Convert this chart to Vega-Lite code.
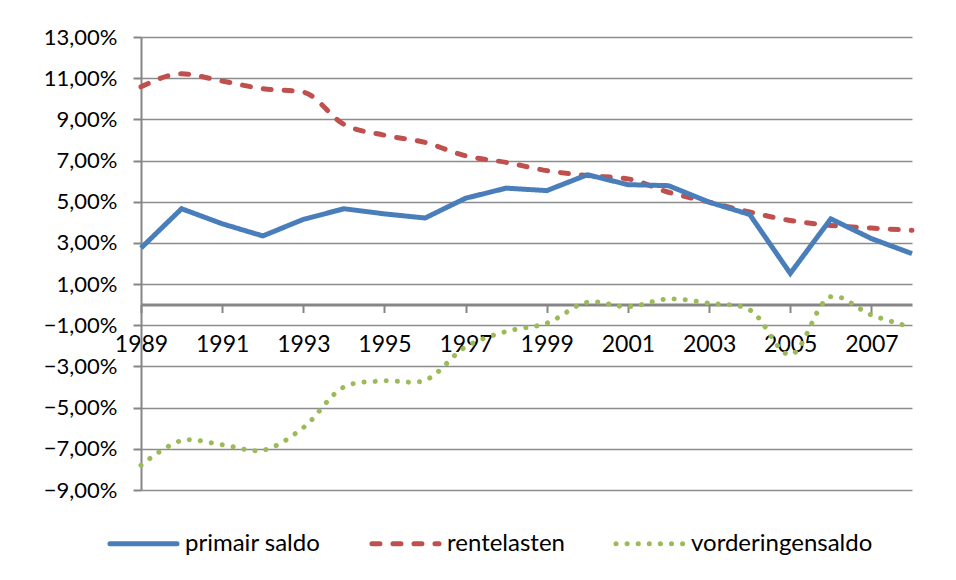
{
  "$schema": "https://vega.github.io/schema/vega-lite/v6.json",
  "width": 771,
  "height": 453,
  "autosize": "none",
  "padding": {"left": 141, "top": 37, "right": 44, "bottom": 90},
  "background": "white",
  "config": {"font": "Lato", "view": {"stroke": null}},
  "data": {"values": [
    {"year": 1989, "series": "primair saldo", "value": 2.75},
    {"year": 1990, "series": "primair saldo", "value": 4.66},
    {"year": 1991, "series": "primair saldo", "value": 3.93},
    {"year": 1992, "series": "primair saldo", "value": 3.34},
    {"year": 1993, "series": "primair saldo", "value": 4.14},
    {"year": 1994, "series": "primair saldo", "value": 4.66},
    {"year": 1995, "series": "primair saldo", "value": 4.41},
    {"year": 1996, "series": "primair saldo", "value": 4.21},
    {"year": 1997, "series": "primair saldo", "value": 5.17},
    {"year": 1998, "series": "primair saldo", "value": 5.66},
    {"year": 1999, "series": "primair saldo", "value": 5.54},
    {"year": 2000, "series": "primair saldo", "value": 6.31},
    {"year": 2001, "series": "primair saldo", "value": 5.83},
    {"year": 2002, "series": "primair saldo", "value": 5.78},
    {"year": 2003, "series": "primair saldo", "value": 4.98},
    {"year": 2004, "series": "primair saldo", "value": 4.38},
    {"year": 2005, "series": "primair saldo", "value": 1.52},
    {"year": 2006, "series": "primair saldo", "value": 4.17},
    {"year": 2007, "series": "primair saldo", "value": 3.21},
    {"year": 2008, "series": "primair saldo", "value": 2.48},
    {"year": 1989, "series": "rentelasten", "value": 10.58},
    {"year": 1990, "series": "rentelasten", "value": 11.21},
    {"year": 1991, "series": "rentelasten", "value": 10.86},
    {"year": 1992, "series": "rentelasten", "value": 10.49},
    {"year": 1993, "series": "rentelasten", "value": 10.32},
    {"year": 1994, "series": "rentelasten", "value": 8.76},
    {"year": 1995, "series": "rentelasten", "value": 8.23},
    {"year": 1996, "series": "rentelasten", "value": 7.88},
    {"year": 1997, "series": "rentelasten", "value": 7.23},
    {"year": 1998, "series": "rentelasten", "value": 6.91},
    {"year": 1999, "series": "rentelasten", "value": 6.51},
    {"year": 2000, "series": "rentelasten", "value": 6.27},
    {"year": 2001, "series": "rentelasten", "value": 6.11},
    {"year": 2002, "series": "rentelasten", "value": 5.46},
    {"year": 2003, "series": "rentelasten", "value": 4.98},
    {"year": 2004, "series": "rentelasten", "value": 4.5},
    {"year": 2005, "series": "rentelasten", "value": 4.09},
    {"year": 2006, "series": "rentelasten", "value": 3.85},
    {"year": 2007, "series": "rentelasten", "value": 3.72},
    {"year": 2008, "series": "rentelasten", "value": 3.61},
    {"year": 1989, "series": "vorderingensaldo", "value": -7.8},
    {"year": 1990, "series": "vorderingensaldo", "value": -6.6},
    {"year": 1991, "series": "vorderingensaldo", "value": -6.8},
    {"year": 1992, "series": "vorderingensaldo", "value": -7.07},
    {"year": 1993, "series": "vorderingensaldo", "value": -5.97},
    {"year": 1994, "series": "vorderingensaldo", "value": -4.0},
    {"year": 1995, "series": "vorderingensaldo", "value": -3.7},
    {"year": 1996, "series": "vorderingensaldo", "value": -3.67},
    {"year": 1997, "series": "vorderingensaldo", "value": -2.05},
    {"year": 1998, "series": "vorderingensaldo", "value": -1.3},
    {"year": 1999, "series": "vorderingensaldo", "value": -0.9},
    {"year": 2000, "series": "vorderingensaldo", "value": 0.12},
    {"year": 2001, "series": "vorderingensaldo", "value": -0.1},
    {"year": 2002, "series": "vorderingensaldo", "value": 0.28},
    {"year": 2003, "series": "vorderingensaldo", "value": 0.07},
    {"year": 2004, "series": "vorderingensaldo", "value": -0.25},
    {"year": 2005, "series": "vorderingensaldo", "value": -2.43},
    {"year": 2006, "series": "vorderingensaldo", "value": 0.39},
    {"year": 2007, "series": "vorderingensaldo", "value": -0.5},
    {"year": 2008, "series": "vorderingensaldo", "value": -1.1}
  ]},
  "encoding": {
    "x": {
      "field": "year", "type": "quantitative",
      "scale": {"domain": [1989, 2008], "nice": false, "zero": false},
      "axis": {
        "title": null, "orient": "bottom", "offset": -185.5,
        "values": [1989, 1991, 1993, 1995, 1997, 1999, 2001, 2003, 2005, 2007],
        "format": "d", "grid": false,
        "domainColor": "#868686", "domainWidth": 3,
        "tickColor": "#868686", "tickWidth": 2, "tickSize": 8,
        "labelFontSize": 23, "labelColor": "#000000", "labelPadding": 21,
        "labelFlush": false, "labelOverlap": false
      }
    },
    "y": {
      "field": "value", "type": "quantitative",
      "scale": {"domain": [-9, 13], "nice": false, "zero": false},
      "axis": {
        "title": null,
        "values": [-9, -7, -5, -3, -1, 1, 3, 5, 7, 9, 11, 13],
        "labelExpr": "replace(format(datum.value, '.2f'), '.', ',') + '%'",
        "grid": true, "gridColor": "#8c8c8c", "gridWidth": 1.5,
        "domainColor": "#868686", "domainWidth": 2,
        "tickColor": "#868686", "tickWidth": 2, "tickSize": 8,
        "labelFontSize": 22, "labelColor": "#000000", "labelPadding": 16
      }
    },
    "color": {
      "field": "series", "type": "nominal",
      "scale": {"domain": ["primair saldo", "rentelasten", "vorderingensaldo"], "range": ["#4A7EBB", "#C0504D", "#9BBB59"]},
      "legend": {
        "title": null, "orient": "none", "legendX": -34, "legendY": 470,
        "direction": "horizontal", "symbolType": "stroke", "symbolSize": 4500,
        "symbolStrokeWidth": 5, "labelFontSize": 24, "labelColor": "#000000",
        "labelOffset": 5, "columnPadding": 40, "labelLimit": 500,
        "encode": {"symbols": {"update": {"strokeCap": {"value": "round"}}}}
      }
    },
    "strokeDash": {
      "field": "series", "type": "nominal",
      "scale": {"domain": ["primair saldo", "rentelasten", "vorderingensaldo"], "range": [[1, 0], [8, 13], [0.1, 11]]},
      "legend": {
        "title": null, "orient": "none", "legendX": -34, "legendY": 470,
        "direction": "horizontal", "symbolType": "stroke", "symbolSize": 4500,
        "symbolStrokeWidth": 5, "labelFontSize": 24, "labelColor": "#000000",
        "labelOffset": 5, "columnPadding": 40, "labelLimit": 500,
        "encode": {"symbols": {"update": {"strokeCap": {"value": "round"}}}}
      }
    }
  },
  "layer": [
    {
      "transform": [{"filter": "datum.series === 'vorderingensaldo'"}],
      "mark": {"type": "line", "strokeWidth": 5, "strokeCap": "round", "interpolate": "catmull-rom"}
    },
    {
      "transform": [{"filter": "datum.series === 'rentelasten'"}],
      "mark": {"type": "line", "strokeWidth": 5, "strokeCap": "round", "interpolate": "monotone"}
    },
    {
      "transform": [{"filter": "datum.series === 'primair saldo'"}],
      "mark": {"type": "line", "strokeWidth": 5, "strokeCap": "butt", "strokeJoin": "miter"}
    }
  ]
}
